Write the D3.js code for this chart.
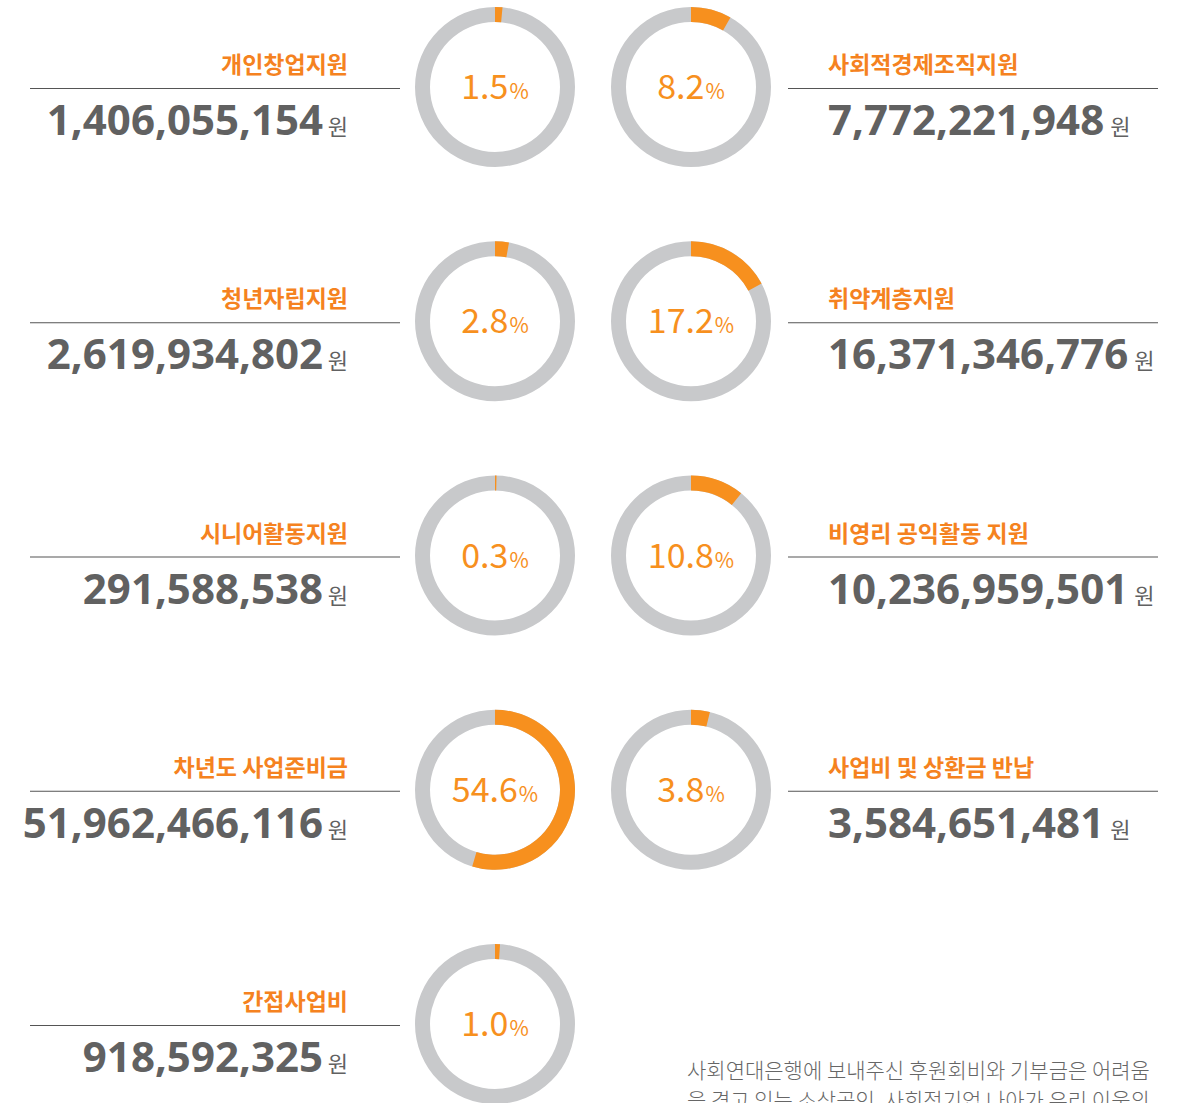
<!DOCTYPE html>
<html>
<head>
<meta charset="utf-8">
<script src="https://cdn.jsdelivr.net/npm/d3@7"></script>
<style>
  body { margin: 0; background: #fff; }
  svg { display: block; }
</style>
</head>
<body>
<div id="chart-area"></div>
<script>
// SVG size
var width = 1189,
	height = 1103;

// data
let labels = ["개인창업지원", "청년자립지원", "시니어활동지원", "차년도 사업준비금", "간접사업비",
	"사회적경제조직지원", "취약계층지원", "비영리 공익활동 지원", "사업비 및 상환금 반납"];
let amounts = ["1,406,055,154", "2,619,934,802", "291,588,538", "51,962,466,116", "918,592,325",
	"7,772,221,948", "16,371,346,776", "10,236,959,501", "3,584,651,481"];
let percents = [1.5, 2.8, 0.3, 54.6, 1.0, 8.2, 17.2, 10.8, 3.8];
let columns = ["left", "left", "left", "left", "left", "right", "right", "right", "right"];
let rows = [0, 1, 2, 3, 4, 0, 1, 2, 3];
let note = ["사회연대은행에 보내주신 후원회비와 기부금은 어려움",
	"을 겪고 있는 소상공인, 사회적기업 나아가 우리 이웃의"];

let data = labels.map(function(d, i) {
	return {label: d, amount: amounts[i], pct: percents[i], col: columns[i], row: rows[i]};
});

let orange = "#f7901e",
	ringGray = "#c8c9cb",
	textGray = "#616161";

let svg = d3.select("#chart-area")
	.append("svg")
	.attr("width", width)
	.attr("height", height);

// row / column scales
let yScale = d3.scaleLinear().domain([0, 4]).range([87, 1024]);
let colX = d3.scaleOrdinal().domain(["left", "right"]).range([495, 691]);
let angle = d3.scaleLinear().domain([0, 100]).range([0, 2 * Math.PI]);

let arc = d3.arc().innerRadius(65).outerRadius(80);

let g = svg.selectAll("g.item")
	.data(data)
	.enter()
	.append("g")
	.attr("class", "item")
	.attr("transform", function(d) { return "translate(0," + yScale(d.row) + ")"; });

// donut background ring
g.append("path")
	.attr("transform", function(d) { return "translate(" + colX(d.col) + ",0)"; })
	.attr("d", arc({startAngle: 0, endAngle: 2 * Math.PI}))
	.attr("fill", ringGray);

// orange share
g.append("path")
	.attr("transform", function(d) { return "translate(" + colX(d.col) + ",0)"; })
	.attr("d", function(d) { return arc({startAngle: 0, endAngle: angle(d.pct)}); })
	.attr("fill", orange);

// percentage in the middle
let pt = g.append("text")
	.attr("x", function(d) { return colX(d.col); })
	.attr("y", 12)
	.attr("text-anchor", "middle")
	.style("font-family", "'Noto Sans CJK KR', 'Noto Sans', sans-serif")
	.style("font-weight", 400)
	.style("fill", orange);
pt.append("tspan")
	.style("font-size", "34px")
	.text(function(d) { return d.pct.toFixed(1); });
pt.append("tspan")
	.style("font-size", "21px")
	.attr("dx", 1)
	.text("%");

// rule under the label
g.append("line")
	.attr("x1", function(d) { return d.col == "left" ? 30 : 788; })
	.attr("x2", function(d) { return d.col == "left" ? 400 : 1158; })
	.attr("y1", 1.5)
	.attr("y2", 1.5)
	.attr("stroke", "#555")
	.attr("stroke-width", 1.2);

// category label
g.append("text")
	.attr("x", function(d) { return d.col == "left" ? 348 : 828; })
	.attr("y", -14)
	.attr("text-anchor", function(d) { return d.col == "left" ? "end" : "start"; })
	.style("font-family", "'Noto Sans CJK KR', sans-serif")
	.style("font-weight", 700)
	.style("font-size", "23px")
	.style("fill", "#f58220")
	.text(function(d) { return d.label; });

// amount + 원
g.each(function(d) {
	let el = d3.select(this);
	let won = el.append("text")
		.attr("y", 48)
		.style("font-family", "'Noto Sans CJK KR', sans-serif")
		.style("font-size", "22px")
		.style("fill", textGray)
		.text("원");
	let num = el.append("text")
		.attr("y", 48)
		.style("font-family", "'Noto Sans', sans-serif")
		.style("font-weight", 700)
		.style("font-size", "42px")
		.style("fill", textGray)
		.text(d.amount);
	if (d.col == "left") {
		won.attr("x", 348).attr("text-anchor", "end");
		num.attr("x", 323).attr("text-anchor", "end");
	} else {
		num.attr("x", 828);
		won.attr("x", 828 + num.node().getComputedTextLength() + 6);
	}
});

// note at the bottom right (cut by the bottom edge, as in the original)
svg.selectAll("text.note")
	.data(note)
	.enter()
	.append("text")
	.attr("class", "note")
	.attr("x", 687)
	.attr("y", function(d, i) { return 1078 + i * 30; })
	.style("font-family", "'Noto Sans CJK KR', sans-serif")
	.style("font-weight", 300)
	.style("font-size", "21px")
	.style("fill", "#666")
	.text(function(d) { return d; });
</script>
</body>
</html>
